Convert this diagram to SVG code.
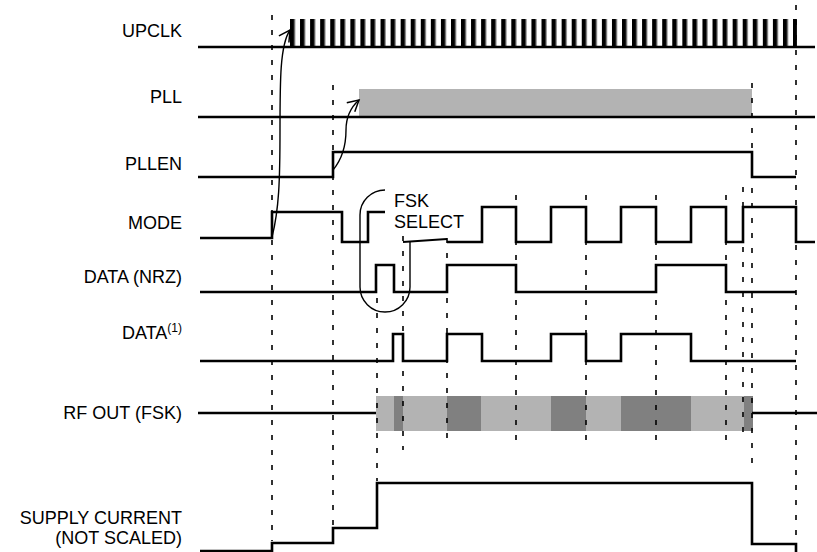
<svg xmlns="http://www.w3.org/2000/svg" width="817" height="552" viewBox="0 0 817 552">
<style>
.lbl{font-family:"Liberation Sans",Arial,sans-serif;font-size:18px;fill:#000;text-anchor:end}
.txt{font-family:"Liberation Sans",Arial,sans-serif;font-size:18px;fill:#000}
.sig{fill:none;stroke:#000;stroke-width:2.6;stroke-linejoin:miter;stroke-linecap:butt}
.dash{fill:none;stroke:#000;stroke-width:1.6;stroke-dasharray:5 10}
.thin{fill:none;stroke:#000;stroke-width:1.4}
.lt{fill:#b3b3b3}
.dk{fill:#808080}
</style>
<defs>
<pattern id="clk" patternUnits="userSpaceOnUse" x="290" y="0" width="10.06" height="552">
<rect x="0" y="0" width="4.4" height="552" fill="#000"/>
<rect x="4.4" y="0" width="1" height="552" fill="#999"/>
</pattern>
<marker id="ah" markerUnits="userSpaceOnUse" markerWidth="20" markerHeight="20" refX="0" refY="0" viewBox="-14 -10 20 20" orient="auto">
<path d="M-11,-6 L0,0 L-11,6" fill="none" stroke="#000" stroke-width="1.5"/>
</marker>
</defs>
<rect width="817" height="552" fill="#fff"/>

<g id="UPCLK">
<text class="lbl" x="182" y="37">UPCLK</text>
<rect x="290" y="19" width="507" height="28" fill="url(#clk)"/>
<path class="sig" d="M198,47 H815"/>
</g>

<g id="PLL">
<text class="lbl" x="182" y="103">PLL</text>
<rect class="lt" x="359" y="89" width="393" height="28"/>
<path class="sig" d="M198,117 H815"/>
</g>

<g id="PLLEN">
<text class="lbl" x="182" y="170">PLLEN</text>
<path class="sig" d="M198,177 H333 V152 H752 V177 H796"/>
</g>

<g id="MODE">
<text class="lbl" x="182" y="229">MODE</text>
<path class="sig" d="M200,238 H272 V212 H342 V242 H368 V212 H385"/>
<path class="sig" d="M447,242 H482 V207 H516 V242 H551 V207 H586 V242 H621 V207 H656 V242 H691 V207 H726 V242 H743 V207 H796 V242 H815"/>
</g>

<g id="DATA_NRZ">
<text class="lbl" x="182" y="283">DATA (NRZ)</text>
<path class="sig" d="M200,292 H376 V265 H394 V292 H447 V265 H516 V292 H656 V265 H726 V292 H796"/>
</g>

<g id="DATA1">
<text class="lbl" x="182" y="339">DATA<tspan font-size="12" dy="-7">(1)</tspan></text>
<path class="sig" d="M200,361 H393 V334 H403 V361 H447 V334 H482 V361 H551 V334 H586 V361 H621 V334 H691 V361 H796"/>
</g>

<g id="RF_OUT">
<text class="lbl" x="182" y="419">RF OUT (FSK)</text>
<path class="sig" d="M198,413 H377"/>
<rect class="lt" x="376" y="396" width="377" height="35"/>
<rect class="dk" x="394" y="396" width="9" height="35"/>
<rect class="dk" x="447" y="396" width="34" height="35"/>
<rect class="dk" x="551" y="396" width="35" height="35"/>
<rect class="dk" x="621" y="396" width="70" height="35"/>
<rect class="dk" x="744" y="396" width="9" height="35"/>
<path class="sig" d="M752,413 H817"/>
</g>

<g id="SUPPLY">
<text class="lbl" x="182" y="524">SUPPLY CURRENT</text>
<text class="lbl" x="182" y="544">(NOT SCALED)</text>
<path class="sig" d="M200,551 H272 V543 H333 V528 H377 V483 H752 V544 H796 V552"/>
</g>

<g id="timing-markers">
<path class="dash" d="M272,15 V541"/>
<path class="dash" d="M333,85 V526"/>
<path class="dash" d="M377,298 V481"/>
<path class="dash" d="M403,236 V450"/>
<path class="dash" d="M447,238 V440"/>
<path class="dash" d="M516,195 V440"/>
<path class="dash" d="M586,195 V440"/>
<path class="dash" d="M656,195 V440"/>
<path class="dash" d="M726,195 V440"/>
<path class="dash" d="M743,187 V432"/>
<path class="dash" d="M752,83 V468"/>
<path class="dash" d="M796,5 V545"/>
</g>

<g id="FSK_SELECT">
<text class="txt" x="394" y="207">FSK</text>
<text class="txt" x="394" y="228">SELECT</text>
<path class="thin" d="M385,190 A25,25 0 0 0 360,215 V287 A25,25 0 0 0 410,287 V241"/>
<path class="sig" d="M403,242 L447,239" style="stroke-width:2"/>
</g>

<g id="connectors">
<path class="thin" d="M272,237 C279,210 280,180 280,130 C280,80 280,45 290,30" marker-end="url(#ah)"/>
<path class="thin" d="M333,170 C343,158 346,145 346,130 C346,118 350,108 359,100" marker-end="url(#ah)"/>
</g>
</svg>
